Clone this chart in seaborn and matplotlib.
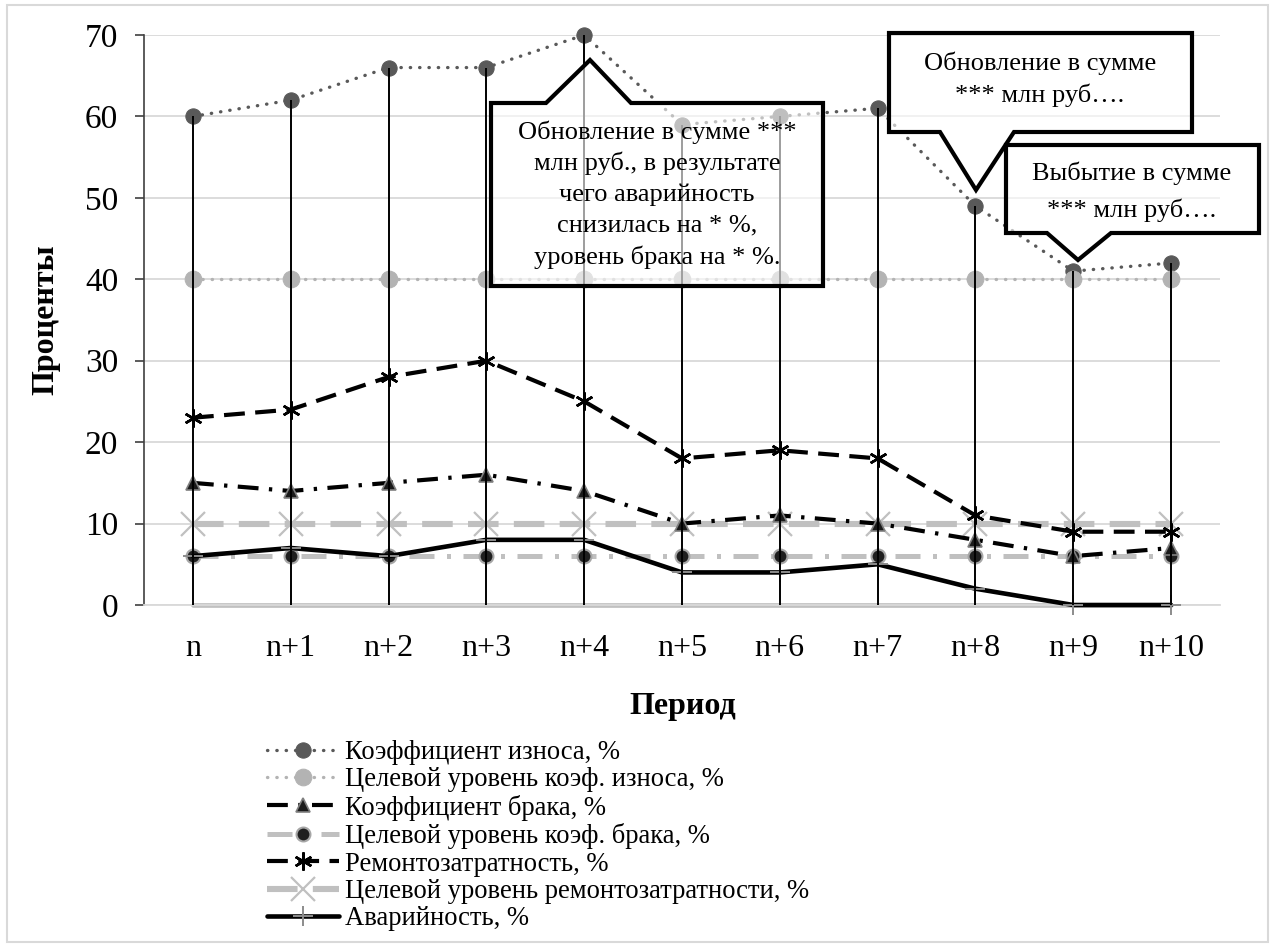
import matplotlib
matplotlib.use("Agg")
import numpy as np
import pandas as pd
import seaborn as sns
import matplotlib.pyplot as plt
from matplotlib.patches import Polygon, Rectangle

# ---- data -------------------------------------------------------------
periods = ["n", "n+1", "n+2", "n+3", "n+4", "n+5", "n+6", "n+7", "n+8", "n+9", "n+10"]
wear = [60, 62, 66, 66, 70, 59, 60, 61, 49, 41, 42]
wear_target = [40] * 11
defects = [15, 14, 15, 16, 14, 10, 11, 10, 8, 6, 7]
defects_target = [6] * 11
repair_cost = [23, 24, 28, 30, 25, 18, 19, 18, 11, 9, 9]
repair_target = [10] * 11
accidents = [6, 7, 6, 8, 8, 4, 4, 5, 2, 0, 0]
zero_level = [0] * 11

series_labels = [
    "Коэффициент износа, %",
    "Целевой уровень коэф. износа, %",
    "Коэффициент брака, %",
    "Целевой уровень коэф. брака, %",
    "Ремонтозатратность, %",
    "Целевой уровень ремонтозатратности, %",
    "Аварийность, %",
]
y_ticks = [0, 10, 20, 30, 40, 50, 60, 70]

callout_texts = [
    ["Обновление в сумме ***", "млн руб., в результате", "чего аварийность",
     "снизилась на * %,", "уровень брака на * %."],
    ["Обновление в сумме", "*** млн руб…."],
    ["Выбытие в сумме", "*** млн руб…."],
]

# ---- figure -----------------------------------------------------------
sns.set_theme(style="white")
plt.rcParams["font.family"] = ["Liberation Serif", "DejaVu Serif"]

W, H = 1280, 947
fig = plt.figure(figsize=(W / 100, H / 100), dpi=100)


def fx(x):
    return x / W


def fy(y):
    return 1 - y / H


ax = fig.add_axes([fx(144), fy(605), (1220 - 144) / W, (605 - 35) / H])

idx = np.arange(len(periods))
df = pd.DataFrame({
    "idx": idx, "wear": wear, "wear_target": wear_target, "defects": defects,
    "defects_target": defects_target, "repair_cost": repair_cost,
    "repair_target": repair_target, "accidents": accidents, "zero": zero_level,
})

common = dict(ax=ax, errorbar=None, sort=False, clip_on=False)

# baseline series along the axis
sns.lineplot(data=df, x="idx", y="zero", color="#c0c0c0", lw=3.4, zorder=2, **common)

l1 = sns.lineplot(data=df, x="idx", y="wear", color="#595959", lw=2.4,
                  linestyle=(0, (0.1, 2.7)), dash_capstyle="round",
                  marker="o", markersize=11, markerfacecolor="#595959",
                  markeredgecolor="#595959", zorder=3, **common).lines[-1]
l2 = sns.lineplot(data=df, x="idx", y="wear_target", color="#b3b3b3", lw=2.4,
                  linestyle=(0, (0.1, 2.7)), dash_capstyle="round",
                  marker="o", markersize=12, markerfacecolor="#b3b3b3",
                  markeredgecolor="#b3b3b3", zorder=3, **common).lines[-1]
l3 = sns.lineplot(data=df, x="idx", y="defects", color="black", lw=3.0,
                  linestyle=(0, (5, 2.5, 0.8, 2.5)),
                  marker="^", markersize=10, markerfacecolor="#1a1a1a",
                  markeredgecolor="#808080", markeredgewidth=1.2, zorder=3.2,
                  **common).lines[-1]
l4 = sns.lineplot(data=df, x="idx", y="defects_target", color="#c0c0c0", lw=3.6,
                  linestyle=(0, (5, 2.5, 0.8, 2.5)),
                  marker="o", markersize=10, markerfacecolor="#1f1f1f",
                  markeredgecolor="#a6a6a6", markeredgewidth=1.5, zorder=3,
                  **common).lines[-1]
l5 = sns.lineplot(data=df, x="idx", y="repair_cost", color="black", lw=3.0,
                  linestyle=(0, (5, 2.5)),
                  marker=(6, 2, 0), markersize=13, markeredgecolor="black",
                  markeredgewidth=1.8, zorder=3.2, **common).lines[-1]
l6 = sns.lineplot(data=df, x="idx", y="repair_target", color="#c0c0c0", lw=4.4,
                  linestyle=(0, (5, 2.5)),
                  marker="x", markersize=17, markeredgecolor="#c0c0c0",
                  markeredgewidth=1.6, zorder=3, **common).lines[-1]
l7 = sns.lineplot(data=df, x="idx", y="accidents", color="black", lw=3.3,
                  marker="+", markersize=14, markeredgecolor="#8c8c8c",
                  markeredgewidth=1.4, zorder=3.1, **common).lines[-1]
handles = [l1, l2, l3, l4, l5, l6, l7]

# drop lines from the top series to the axis
ax.vlines(idx, 0, wear, colors="black", lw=1.4, zorder=4)

# ---- axes styling ------------------------------------------------------
ax.set_xlim(-0.5, len(periods) - 0.5)
ax.set_ylim(0, 70)
ax.set_yticks(y_ticks)
ax.set_xticks(idx)
ax.set_xticklabels(periods)
ax.yaxis.grid(True, color="#d9d9d9", lw=1.3)
ax.xaxis.grid(False)
ax.set_axisbelow(True)
for s in ("top", "right"):
    ax.spines[s].set_visible(False)
ax.spines["left"].set_color("#404040")
ax.spines["left"].set_linewidth(1.2)
ax.spines["bottom"].set_color("#d9d9d9")
ax.spines["bottom"].set_linewidth(1.3)
ax.tick_params(axis="y", which="major", left=True, length=6.5, width=1.2,
               color="#404040", pad=12, labelsize=24, labelcolor="black")
ax.tick_params(axis="x", which="major", bottom=False, length=0, pad=21,
               labelsize=23, labelcolor="black")

ax.set_xlabel("Период", fontsize=23, fontweight="bold", color="black")
ax.set_ylabel("Проценты", fontsize=23, fontweight="bold", color="black")
ax.xaxis.set_label_coords((683 - 144) / (1220 - 144), -(692 - 605) / (605 - 35))
ax.yaxis.set_label_coords(-(144 - 60) / (1220 - 144), 0.5)

# ---- legend -----------------------------------------------------------
leg = ax.legend(handles, series_labels, loc="upper left",
                bbox_to_anchor=(fx(267), fy(740)), bbox_transform=fig.transFigure,
                frameon=False, fontsize=19.2, handlelength=2.7, handletextpad=0.22,
                labelspacing=0.09, borderpad=0, borderaxespad=0, numpoints=1)
for t in leg.get_texts():
    t.set_color("black")


# ---- callouts ---------------------------------------------------------
def callout(box, base, tip, lines, line_y, line_step, cx, fs=19):
    x0, y0, x1, y1 = box
    b0, b1 = base
    tx, ty = tip
    if ty < y0:
        pts = [(x0, y0), (b0, y0), (tx, ty), (b1, y0), (x1, y0), (x1, y1), (x0, y1)]
    else:
        pts = [(x0, y0), (x1, y0), (x1, y1), (b1, y1), (tx, ty), (b0, y1), (x0, y1)]
    verts = [(fx(px), fy(py)) for px, py in pts]
    # translucent white body, solid black outline
    fig.add_artist(Polygon(verts, closed=True, transform=fig.transFigure,
                           facecolor="white", edgecolor="none", alpha=0.62,
                           zorder=10))
    fig.add_artist(Polygon(verts, closed=True, transform=fig.transFigure,
                           fill=False, edgecolor="black", lw=3.0,
                           joinstyle="miter", zorder=10.5))
    for i, line in enumerate(lines):
        fig.text(fx(cx), fy(line_y + i * line_step), line, ha="center",
                 va="center", fontsize=fs, color="black", zorder=11)


callout((491, 103, 823, 286), (546, 631), (590, 60), callout_texts[0], 132, 31.3, 657)
callout((889, 33, 1192, 132), (940, 1014), (976, 190), callout_texts[1], 63, 32, 1040)
callout((1006, 145, 1259, 233), (1047, 1111), (1078, 260), callout_texts[2], 173, 37, 1132)

# outer frame
fig.add_artist(Rectangle((fx(7), fy(942)), (1268 - 7) / W, (942 - 5) / H,
                         fill=False, edgecolor="#d9d9d9", lw=1.5,
                         transform=fig.transFigure, zorder=0))

fig.savefig("out.png", dpi=100, facecolor="white")
